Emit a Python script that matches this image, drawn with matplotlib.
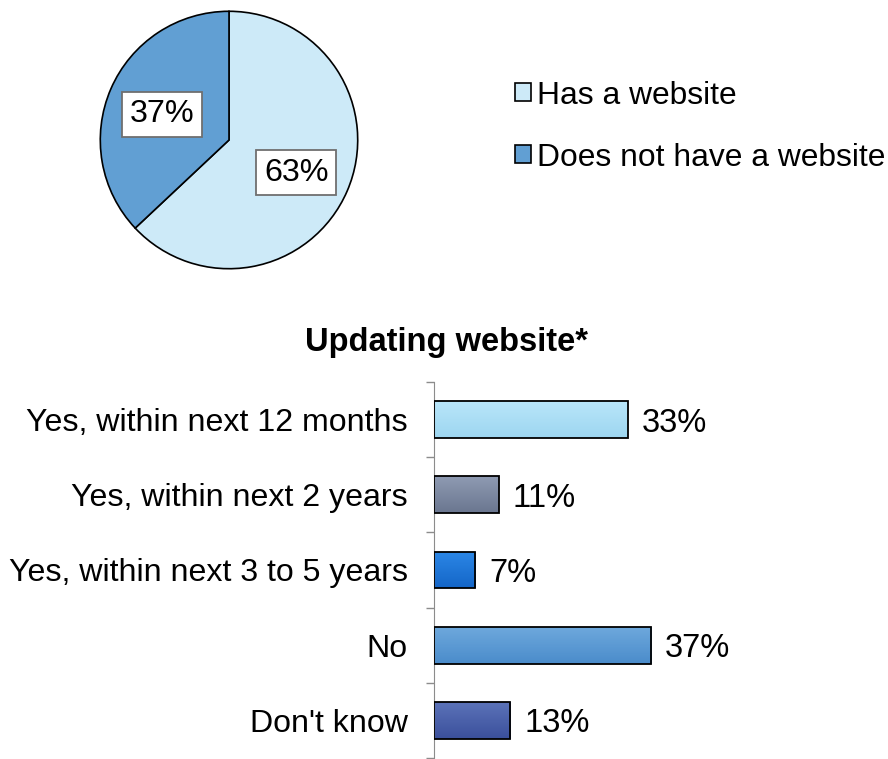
import matplotlib.pyplot as plt
import numpy as np
from matplotlib.colors import LinearSegmentedColormap

plt.rcParams['font.family'] = ['Liberation Sans', 'DejaVu Sans']

# website ownership
pie_labels = ['Has a website', 'Does not have a website']
pie_values = [63, 37]
pie_colors = ['#cdeaf8', '#619fd3']

# plans to update the website
categories = ['Yes, within next 12 months', 'Yes, within next 2 years',
              'Yes, within next 3 to 5 years', 'No', "Don't know"]
shares = [0.33, 0.11, 0.07, 0.37, 0.13]
bar_tops = ['#b9e6fa', '#8e9ab2', '#2c87e6', '#6ea8dc', '#5b72b8']
bar_bottoms = ['#9dd6f0', '#6b7790', '#1466c8', '#4a8ccb', '#3b509c']

FS = 23.3

fig = plt.figure(figsize=(8.88, 7.59), dpi=100)

# pie
ax1 = fig.add_axes([99 / 888, 1 - 270 / 759, 260 / 888, 260 / 759])
wedges, texts = ax1.pie(pie_values, colors=pie_colors, startangle=90, counterclock=False,
                        labels=[f'{v}%' for v in pie_values], labeldistance=0.57,
                        wedgeprops=dict(edgecolor='black', linewidth=1.2),
                        textprops=dict(fontsize=FS, ha='center', va='center_baseline'))
for t in texts:
    t.set_bbox(dict(facecolor='white', edgecolor='#6f6f6f', linewidth=1.3, pad=5.5))
ax1.set_xlim(-1.01, 1.01)
ax1.set_ylim(-1.01, 1.01)
ax1.set_aspect('equal')

fig.legend(wedges, pie_labels, loc='upper left', bbox_to_anchor=(502 / 888, 1 - 68 / 759),
           frameon=False, fontsize=22.9, handlelength=0.5, handleheight=0.5,
           handletextpad=0.2, labelspacing=1.0, borderaxespad=0)
for h in fig.legends[0].legend_handles:
    h.set_edgecolor('black')
    h.set_linewidth(1.2)

# bar chart
ax2 = fig.add_axes([434 / 888, 1 / 759, 352 / 888, 376 / 759])
y = np.arange(len(categories))
bars = ax2.barh(y, shares, height=0.49, color='none', edgecolor='black', linewidth=1.3, zorder=3)
for b, top, bot in zip(bars, bar_tops, bar_bottoms):
    cmap = LinearSegmentedColormap.from_list('g', [top, bot])
    x0, y0 = b.get_x(), b.get_y()
    img = ax2.imshow(np.linspace(0, 1, 50).reshape(-1, 1), cmap=cmap, aspect='auto',
                     extent=(x0, x0 + b.get_width(), y0, y0 + b.get_height()),
                     origin='lower', zorder=2)
    img.set_clip_path(b)
    ax2.text(b.get_width() + 0.024, y0 + b.get_height() / 2, f'{round(b.get_width() * 100)}%',
             va='center_baseline', ha='left', fontsize=23.5)

ax2.set_xlim(0, 0.6)
ax2.set_ylim(len(categories) - 0.5, -0.5)
ax2.set_aspect('auto')
ax2.set_yticks(y)
ax2.set_yticklabels(categories, fontsize=23.1)
ax2.set_yticks(np.arange(len(categories) + 1) - 0.5, minor=True)
ax2.tick_params(axis='y', which='major', length=0, pad=19)
ax2.tick_params(axis='y', which='minor', length=6, color='#8c8c8c', width=1)
ax2.set_xticks([])
for s in ['top', 'right', 'bottom']:
    ax2.spines[s].set_visible(False)
ax2.spines['left'].set_color('#8c8c8c')

fig.text(446 / 888, 1 - 343 / 759, 'Updating website*', ha='center', va='center',
         fontsize=23.5, fontweight='bold')

fig.savefig('out.png', dpi=100)
plt.close(fig)
